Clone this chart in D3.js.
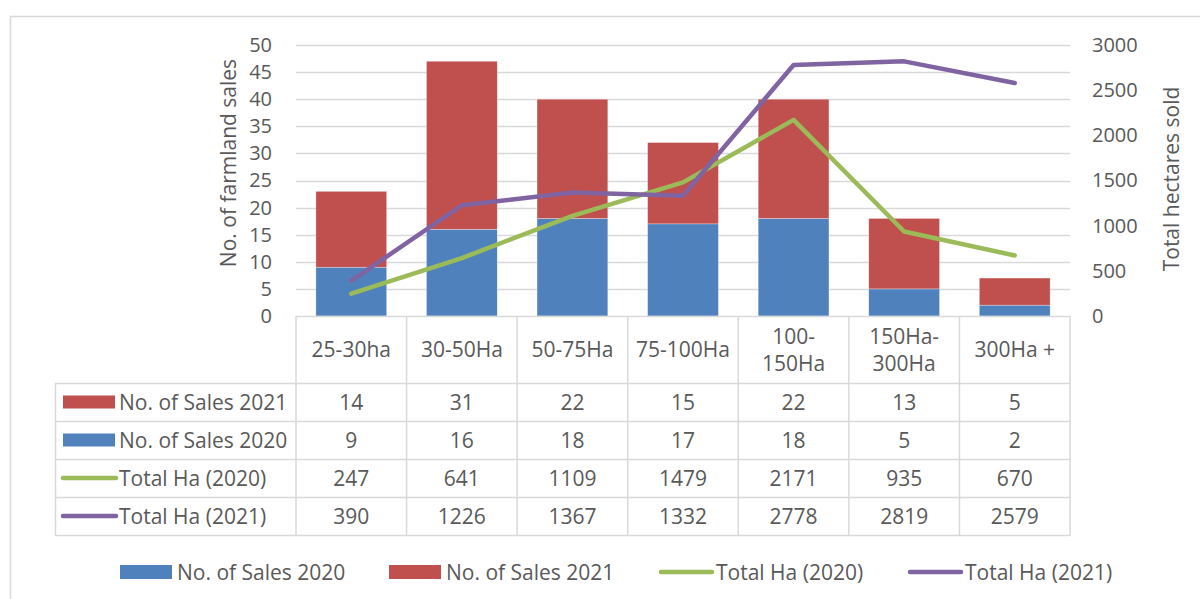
<!DOCTYPE html>
<html>
<head>
<meta charset="utf-8">
<script src="https://cdn.jsdelivr.net/npm/d3@7"></script>
<style>
  body { margin: 0; background: #fff; }
  text { font-family: "Open Sans", sans-serif; fill: #595959; }
</style>
</head>
<body>
<div id="chart"></div>
<script>
// data
var categories = ["25-30ha", "30-50Ha", "50-75Ha", "75-100Ha", "100-150Ha", "150Ha-300Ha", "300Ha +"];
var sales2020 = [9, 16, 18, 17, 18, 5, 2];
var sales2021 = [14, 31, 22, 15, 22, 13, 5];
var ha2020 = [247, 641, 1109, 1479, 2171, 935, 670];
var ha2021 = [390, 1226, 1367, 1332, 2778, 2819, 2579];
var leftTicks = [0, 5, 10, 15, 20, 25, 30, 35, 40, 45, 50];
var rightTicks = [0, 500, 1000, 1500, 2000, 2500, 3000];

var blue = "#4f81bd", red = "#c0504d", green = "#9bbb59", purple = "#8064a2";
var gridColor = "#d9d9d9";

var W = 1200, H = 599;
var plot = {left: 296, right: 1070, top: 45, bottom: 316};

var svg = d3.select("#chart")
  .append("svg")
    .attr("width", W)
    .attr("height", H);

// outer chart border (left and top only visible)
svg.append("path")
  .attr("d", "M10.5," + H + "V16.5H" + W)
  .attr("fill", "none")
  .attr("stroke", gridColor)
  .attr("stroke-width", 1.5);

// scales
var x = d3.scaleBand()
  .domain(categories)
  .range([plot.left, plot.right])
  .paddingInner(0.36)
  .paddingOuter(0.18);

var yL = d3.scaleLinear().domain([0, 50]).range([plot.bottom, plot.top]);
var yR = d3.scaleLinear().domain([0, 3000]).range([plot.bottom, plot.top]);

// gridlines
svg.append("g")
  .selectAll("line")
  .data(leftTicks.slice(1))
  .enter().append("line")
    .attr("x1", plot.left).attr("x2", plot.right)
    .attr("y1", function(d) { return Math.round(yL(d)) + 0.5; })
    .attr("y2", function(d) { return Math.round(yL(d)) + 0.5; })
    .attr("stroke", gridColor)
    .attr("stroke-width", 1.5);

// left axis (labels only)
var axL = svg.append("g")
  .attr("transform", "translate(" + plot.left + ",0)")
  .call(d3.axisLeft(yL).tickValues(leftTicks).tickSize(0).tickPadding(24));
axL.select(".domain").remove();
axL.selectAll("text").style("font-size", "20px").attr("fill", "#595959");

// right axis
var axR = svg.append("g")
  .attr("transform", "translate(" + plot.right + ",0)")
  .call(d3.axisRight(yR).tickValues(rightTicks).tickFormat(d3.format("d")).tickSize(0).tickPadding(22));
axR.select(".domain").remove();
axR.selectAll("text").style("font-size", "20px").attr("fill", "#595959");

// axis titles
svg.append("text")
  .attr("transform", "translate(236,163) rotate(-90)")
  .attr("text-anchor", "middle")
  .style("font-size", "21px")
  .text("No. of farmland sales");

svg.append("text")
  .attr("transform", "translate(1179,179) rotate(-90)")
  .attr("text-anchor", "middle")
  .style("font-size", "21px")
  .text("Total hectares sold");

// stacked bars
var rows = categories.map(function(c, i) {
  return {cat: c, s2020: sales2020[i], s2021: sales2021[i]};
});
var stacked = d3.stack().keys(["s2020", "s2021"])(rows);
var barColor = {s2020: blue, s2021: red};

svg.append("g")
  .selectAll("g")
  .data(stacked)
  .enter().append("g")
    .attr("fill", function(d) { return barColor[d.key]; })
  .selectAll("rect")
  .data(function(d) { return d; })
  .enter().append("rect")
    .attr("x", function(d) { return x(d.data.cat); })
    .attr("y", function(d) { return yL(d[1]); })
    .attr("height", function(d) { return yL(d[0]) - yL(d[1]); })
    .attr("width", x.bandwidth())
    .attr("stroke", "#ffffff")
    .attr("stroke-opacity", 0.5)
    .attr("stroke-width", 0.6);

// lines on the right axis
var line = d3.line()
  .x(function(d, i) { return x(categories[i]) + x.bandwidth() / 2; })
  .y(function(d) { return yR(d); });

[[ha2020, green], [ha2021, purple]].forEach(function(s) {
  svg.append("path")
    .datum(s[0])
    .attr("d", line)
    .attr("fill", "none")
    .attr("stroke", s[1])
    .attr("stroke-width", 4.5)
    .attr("stroke-linecap", "round")
    .attr("stroke-linejoin", "round");
});

// ----------------
// data table under the plot
// ----------------
var tableLeft = 55;
var headerBottom = 383;
var rowLines = [383, 421, 459, 497, 535];
var tableRows = [
  {name: "No. of Sales 2021", values: sales2021, color: red, type: "rect"},
  {name: "No. of Sales 2020", values: sales2020, color: blue, type: "rect"},
  {name: "Total Ha (2020)", values: ha2020, color: green, type: "line"},
  {name: "Total Ha (2021)", values: ha2021, color: purple, type: "line"}
];

var grid = svg.append("g")
  .attr("stroke", gridColor)
  .attr("stroke-width", 1.5);

// horizontal lines
grid.append("line")
  .attr("x1", plot.left).attr("x2", plot.right)
  .attr("y1", plot.bottom + 0.5).attr("y2", plot.bottom + 0.5);
rowLines.forEach(function(yv) {
  grid.append("line")
    .attr("x1", tableLeft).attr("x2", plot.right)
    .attr("y1", yv + 0.5).attr("y2", yv + 0.5);
});
// vertical lines
var step = x.step();
var colEdges = d3.range(categories.length + 1).map(function(i) { return plot.left + i * step; });
colEdges.forEach(function(xv) {
  grid.append("line")
    .attr("x1", xv).attr("x2", xv)
    .attr("y1", plot.bottom).attr("y2", rowLines[rowLines.length - 1] + 0.5);
});
grid.append("line")
  .attr("x1", tableLeft + 0.5).attr("x2", tableLeft + 0.5)
  .attr("y1", headerBottom).attr("y2", rowLines[rowLines.length - 1] + 0.5);

// header labels (wrap after the hyphen when too wide)
var header = svg.append("g");
categories.forEach(function(c, i) {
  var cx = plot.left + (i + 0.5) * step;
  var t = header.append("text")
    .attr("x", cx)
    .attr("text-anchor", "middle")
    .style("font-size", "21px")
    .text(c);
  var w = t.node().getComputedTextLength();
  if (w > step - 8 && c.indexOf("-") > 0) {
    var k = c.indexOf("-") + 1;
    t.text(null);
    t.append("tspan").attr("x", cx).attr("y", 344).text(c.slice(0, k));
    t.append("tspan").attr("x", cx).attr("y", 371).text(c.slice(k));
  } else {
    t.attr("y", 357);
  }
});

// table body
tableRows.forEach(function(r, j) {
  var top = rowLines[j], bot = rowLines[j + 1];
  var cy = (top + bot) / 2;
  if (r.type === "rect") {
    svg.append("rect")
      .attr("x", 63).attr("y", cy - 6.5)
      .attr("width", 52).attr("height", 13)
      .attr("fill", r.color);
  } else {
    svg.append("line")
      .attr("x1", 63).attr("x2", 116)
      .attr("y1", cy).attr("y2", cy)
      .attr("stroke", r.color)
      .attr("stroke-width", 4.5)
      .attr("stroke-linecap", "round");
  }
  svg.append("text")
    .attr("x", 119).attr("y", cy + 7.5)
    .style("font-size", "21px")
    .text(r.name);
  r.values.forEach(function(v, i) {
    svg.append("text")
      .attr("x", plot.left + (i + 0.5) * step)
      .attr("y", cy + 7.5)
      .attr("text-anchor", "middle")
      .style("font-size", "21px")
      .text(v);
  });
});

// bottom legend
var legendItems = [
  {name: "No. of Sales 2020", color: blue, type: "rect", x: 120},
  {name: "No. of Sales 2021", color: red, type: "rect", x: 389},
  {name: "Total Ha (2020)", color: green, type: "line", x: 659},
  {name: "Total Ha (2021)", color: purple, type: "line", x: 908}
];
var ly = 572;
var legend = svg.append("g");
legendItems.forEach(function(it) {
  if (it.type === "rect") {
    legend.append("rect")
      .attr("x", it.x).attr("y", ly - 7)
      .attr("width", 52).attr("height", 14)
      .attr("fill", it.color);
  } else {
    legend.append("line")
      .attr("x1", it.x + 2).attr("x2", it.x + 53)
      .attr("y1", ly).attr("y2", ly)
      .attr("stroke", it.color)
      .attr("stroke-width", 4.5)
      .attr("stroke-linecap", "round");
  }
  legend.append("text")
    .attr("x", it.x + 57).attr("y", ly + 7.5)
    .style("font-size", "21px")
    .text(it.name);
});
</script>
</body>
</html>
